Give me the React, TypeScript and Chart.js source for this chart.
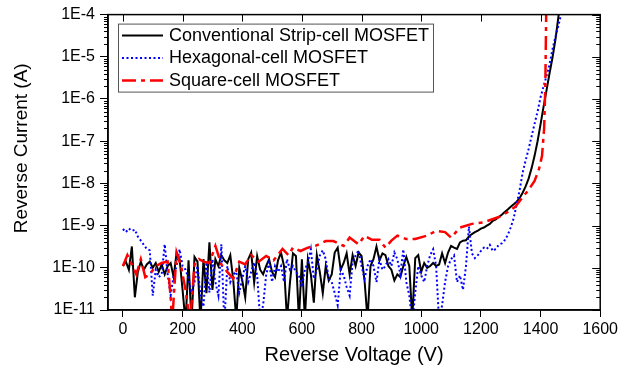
import React, { useEffect, useRef } from "react";
import { Chart, registerables } from "chart.js";

Chart.register(...registerables);

// ---------- DATA ----------
const sweepVoltage = [
  0, 10, 20, 30, 40, 50, 60, 70, 80, 90,
  100, 110, 120, 130, 140, 150, 160, 170, 180, 190,
  200, 210, 220, 230, 240, 250, 260, 270, 280, 290,
  300, 310, 320, 330, 340, 350, 360, 370, 380, 390,
  400, 410, 420, 430, 440, 450, 460, 470, 480, 490,
  500, 510, 520, 530, 540, 550, 560, 570, 580, 590,
  600, 610, 620, 630, 640, 650, 660, 670, 680, 690,
  700, 710, 720, 730, 740, 750, 760, 770, 780, 790,
  800, 810, 820, 830, 840, 850, 860, 870, 880, 890,
  900, 910, 920, 930, 940, 950, 960, 970, 980, 990,
  1000, 1010, 1020, 1030, 1040, 1050, 1060, 1070, 1080, 1090,
  1100, 1110, 1120, 1130, 1140, 1150, 1160, 1170, 1180, 1190,
  1200, 1210, 1220, 1230, 1240, 1250, 1260, 1270, 1280, 1290,
  1300, 1310, 1320, 1330, 1340, 1350, 1360, 1370, 1380, 1390,
  1400, 1410, 1420, 1430, 1440, 1450, 1460, 1470,
];

const stripCurrent = [
  1.1e-10, 1.4e-10, 9e-11, 3.2e-10, 2e-11, 8e-11, 1.4e-10, 9e-11, 1.2e-10, 1.4e-10,
  1.0e-10, 1.3e-10, 8e-11, 1.2e-10, 7e-11, 1.1e-10, 1.3e-10, 6e-11, 2.3e-10, 1.6e-10,
  3e-11, 5e-12, 1.5e-10, 5e-12, 1.8e-10, 1.4e-10, 5e-12, 1.6e-10, 2.5e-11, 4e-10,
  3e-11, 1.6e-10, 1.1e-10, 2e-10, 1.5e-10, 1.3e-10, 2e-10, 5e-11, 6e-12, 1.0e-10,
  5e-11, 2e-11, 1.6e-10, 2.3e-10, 4.5e-11, 1.9e-10, 9e-11, 7e-11, 1.1e-10, 1.6e-10,
  8e-11, 6e-11, 1.5e-10, 2.3e-10, 1.1e-10, 6e-12, 4.5e-11, 2.2e-10, 1.9e-10, 6e-12,
  1.6e-10, 6e-12, 1.6e-10, 7e-11, 1.5e-11, 2e-10, 8e-11, 2.5e-11, 1.1e-10, 5e-11,
  7e-11, 2.3e-10, 3e-10, 9e-11, 1.3e-10, 2.2e-10, 7e-11, 2e-10, 1.1e-10, 2.3e-10,
  1.9e-10, 5e-11, 6e-12, 1.1e-10, 1.6e-10, 3.2e-10, 1.5e-10, 2.2e-10, 2e-10, 1.1e-10,
  9e-11, 5e-11, 7e-11, 6e-11, 1.1e-10, 1.8e-10, 1.1e-10, 6e-12, 1.7e-10, 2e-10,
  8e-11, 1.3e-10, 1.0e-10, 1.1e-10, 1.3e-10, 1.1e-10, 1.2e-10, 2.2e-10, 1.3e-10, 2.3e-10,
  3.3e-10, 3e-10, 2.8e-10, 4e-10, 4.4e-10, 4.5e-10, 5.5e-10, 6.3e-10, 7e-10, 7.6e-10,
  8.5e-10, 9e-10, 1.0e-9, 1.1e-9, 1.3e-9, 1.4e-9, 1.6e-9, 1.8e-9, 2.1e-9, 2.4e-9,
  2.8e-9, 3.2e-9, 3.7e-9, 4.5e-9, 6e-9, 8.5e-9, 1.3e-8, 2.3e-8, 4.5e-8, 1.0e-7,
  2.5e-7, 6.5e-7, 1.6e-6, 4e-6, 9.5e-6, 2.6e-5, 9e-5, 3e-4,
];

const hexCurrent = [
  8.3e-10, 7e-10, 8.5e-10, 7.5e-10, 8e-10, 5.5e-10, 4.4e-10, 3.5e-10, 2.8e-10, 2.6e-10,
  2.2e-11, 9e-11, 6e-11, 7e-11, 3.6e-10, 7e-11, 2.2e-11, 6.6e-11, 1.1e-10, 2.75e-10,
  1.1e-10, 9e-11, 5.5e-11, 2.6e-11, 4.6e-11, 1.1e-10, 2.2e-11, 1.2e-11, 1.35e-10, 2.6e-11,
  1.6e-10, 4.6e-11, 2.2e-11, 3.6e-10, 5e-12, 1.1e-10, 4.6e-11, 7e-11, 8e-11, 2.6e-11,
  5.5e-11, 1.1e-10, 4.6e-11, 8e-11, 1.35e-10, 6.6e-11, 6e-12, 1.3e-11, 6.6e-11, 1.35e-10,
  4.6e-11, 1.1e-10, 8e-11, 1.1e-10, 4.6e-11, 1.6e-10, 9e-11, 1.1e-10, 8e-11, 6.6e-11,
  3.5e-11, 9e-11, 1.35e-10, 2.75e-10, 5.5e-11, 9e-11, 1.95e-10, 2.6e-10, 1.6e-10, 5.5e-11,
  4.6e-11, 2.5e-11, 1.3e-11, 9e-11, 6.6e-11, 3.5e-11, 2.2e-11, 1.35e-10, 1.95e-10, 2.6e-10,
  1.1e-10, 5.5e-11, 1.1e-10, 1.6e-10, 1.1e-10, 4.6e-11, 1.6e-10, 9e-11, 1.1e-10, 1.6e-10,
  1.1e-10, 2.3e-10, 1.6e-10, 7e-11, 2.75e-10, 4.6e-11, 2.2e-11, 5e-12, 2.6e-11, 1.1e-10,
  6.6e-11, 4.6e-11, 1.1e-10, 2e-10, 2.75e-10, 1.1e-10, 5e-12, 1.3e-11, 4.6e-11, 1.1e-10,
  1.6e-10, 1.95e-10, 4.6e-11, 6.6e-11, 3e-11, 1.1e-10, 9.5e-10, 2.2e-10, 1.7e-10, 2e-10,
  2.5e-10, 3e-10, 2.8e-10, 3.5e-10, 2.5e-10, 2.8e-10, 3.5e-10, 3.8e-10, 4.5e-10, 6e-10,
  9e-10, 1.5e-9, 3.2e-9, 7e-9, 1.8e-8, 3.5e-8, 6.5e-8, 1.3e-7, 2.6e-7, 5e-7,
  1.1e-6, 2e-6, 3.5e-6, 6.5e-6, 1.5e-5, 3e-5, 5.5e-5, 1.1e-4,
];

const squareVoltage = [
  0, 15, 30, 45, 60, 75, 90, 110, 130, 150, 160, 165, 180, 195, 210, 225,
  240, 255, 270, 290, 310, 330, 350, 370, 390, 410, 430, 455, 480, 505, 535, 555,
  570, 595, 620, 645, 680, 705, 740, 760, 790, 810, 835, 860, 880, 900, 920, 950,
  980, 1020, 1050, 1080, 1100, 1130, 1170, 1210, 1260, 1290, 1315, 1340, 1360, 1380,
  1395, 1405, 1412, 1416, 1419,
];

const squareCurrent = [
  1.1e-10, 2e-10, 1.2e-10, 7e-11, 1.6e-10, 6e-11, 7e-11, 1.1e-10, 1.3e-10, 1.4e-10, 2e-11, 5e-12, 2.3e-10, 1.1e-10, 3e-11, 5e-12,
  1.2e-10, 1.6e-10, 1.4e-10, 1.3e-10, 3.3e-10, 1.2e-10, 8e-11, 5.5e-11, 1.4e-10, 1.2e-10, 2e-10, 1.4e-10, 1.9e-10, 1.5e-10, 2.8e-10, 2e-10,
  3e-10, 2.5e-10, 3e-10, 3.3e-10, 4.3e-10, 4.3e-10, 3.3e-10, 5.2e-10, 3.6e-10, 5.7e-10, 4.6e-10, 4.6e-10, 3e-10, 4.4e-10, 5.8e-10, 4.8e-10,
  4.8e-10, 5.8e-10, 7.5e-10, 7e-10, 5.2e-10, 9e-10, 1.1e-9, 1.2e-9, 1.6e-9, 2.1e-9, 2.8e-9, 4.7e-9, 7e-9, 1.15e-8,
  2.2e-8, 4.5e-8, 2e-7, 2e-6, 1.2e-4,
];

const seriesNames = [
  "Conventional Strip-cell MOSFET",
  "Hexagonal-cell MOSFET",
  "Square-cell MOSFET",
];

const xTickValues = [0, 200, 400, 600, 800, 1000, 1200, 1400, 1600];
const xTickLabels = ["0", "200", "400", "600", "800", "1000", "1200", "1400", "1600"];
const yTickValues = [1e-11, 1e-10, 1e-9, 1e-8, 1e-7, 1e-6, 1e-5, 1e-4];
const yTickLabels = ["1E-11", "1E-10", "1E-9", "1E-8", "1E-7", "1E-6", "1E-5", "1E-4"];

const xTitle = "Reverse Voltage (V)";
const yTitle = "Reverse Current (A)";

// ---------- STYLE ----------
const FONT = "'Liberation Sans', Arial, Helvetica, sans-serif";
const seriesStyles = [
  { color: "#000000", width: 2, dash: [] as number[] },
  { color: "#0000ff", width: 2, dash: [2, 2.5] },
  { color: "#ff0000", width: 2.5, dash: [14, 5, 4, 5] },
];

export default function App() {
  const canvasRef = useRef<HTMLCanvasElement | null>(null);

  useEffect(() => {
    const canvas = canvasRef.current;
    if (!canvas) return;

    const pts = (xs: number[], ys: number[]) => xs.map((x, i) => ({ x, y: ys[i] }));

    const decorPlugin = {
      id: "decor",
      afterDatasetsDraw(chart: any) {
        const { ctx, chartArea: a, scales } = chart;
        const xs = scales.x;
        const ys = scales.y;
        ctx.save();
        ctx.strokeStyle = "#000";
        // frame
        ctx.lineWidth = 1.5;
        ctx.setLineDash([]);
        ctx.strokeRect(a.left, a.top, a.right - a.left, a.bottom - a.top);

        ctx.lineWidth = 1;
        ctx.beginPath();
        // top ticks (inward)
        for (const v of xTickValues) {
          const px = Math.round(xs.getPixelForValue(v)) + 0.5;
          ctx.moveTo(px, a.top);
          ctx.lineTo(px, a.top + 7);
        }
        // right major ticks (inward)
        for (const v of yTickValues) {
          const py = Math.round(ys.getPixelForValue(v)) + 0.5;
          ctx.moveTo(a.right, py);
          ctx.lineTo(a.right - 8, py);
        }
        // minor log ticks
        for (let d = -11; d < -4; d++) {
          for (let m = 2; m <= 9; m++) {
            const py = Math.round(ys.getPixelForValue(m * Math.pow(10, d))) + 0.5;
            ctx.moveTo(a.left, py);
            ctx.lineTo(a.left - 4, py);
            ctx.moveTo(a.right, py);
            ctx.lineTo(a.right - 4, py);
          }
        }
        ctx.stroke();

        // legend
        const lx = a.left + 10;
        const ly = a.top + 9;
        const lw = 315;
        const lh = 68;
        ctx.fillStyle = "#fff";
        ctx.fillRect(lx, ly, lw, lh);
        ctx.strokeStyle = "#555";
        ctx.lineWidth = 1;
        ctx.strokeRect(lx + 0.5, ly + 0.5, lw, lh);
        ctx.font = `18px ${FONT}`;
        ctx.textBaseline = "middle";
        ctx.textAlign = "left";
        seriesNames.forEach((name, i) => {
          const st = seriesStyles[i];
          const rowY = ly + 12 + i * 22.5;
          ctx.strokeStyle = st.color;
          ctx.lineWidth = st.width;
          ctx.setLineDash(st.dash);
          ctx.beginPath();
          ctx.moveTo(lx + 4, rowY);
          ctx.lineTo(lx + 45, rowY);
          ctx.stroke();
          ctx.setLineDash([]);
          ctx.fillStyle = "#000";
          ctx.fillText(name, lx + 51, rowY);
        });

        // y-axis title
        ctx.save();
        ctx.translate(22, (a.top + a.bottom) / 2 - 14);
        ctx.rotate(-Math.PI / 2);
        ctx.font = `19px ${FONT}`;
        ctx.fillStyle = "#000";
        ctx.textAlign = "center";
        ctx.textBaseline = "middle";
        ctx.fillText(yTitle, 0, 0);
        ctx.restore();

        ctx.restore();
      },
    };

    const chart = new Chart(canvas, {
      type: "line",
      data: {
        datasets: [
          {
            label: seriesNames[0],
            data: pts(sweepVoltage, stripCurrent),
            borderColor: seriesStyles[0].color,
            borderWidth: seriesStyles[0].width,
            borderDash: seriesStyles[0].dash,
            pointRadius: 0,
            tension: 0,
            order: 3,
          },
          {
            label: seriesNames[1],
            data: pts(sweepVoltage, hexCurrent),
            borderColor: seriesStyles[1].color,
            borderWidth: seriesStyles[1].width,
            borderDash: seriesStyles[1].dash,
            pointRadius: 0,
            tension: 0,
            order: 2,
          },
          {
            label: seriesNames[2],
            data: pts(squareVoltage, squareCurrent),
            borderColor: seriesStyles[2].color,
            borderWidth: seriesStyles[2].width,
            borderDash: seriesStyles[2].dash,
            pointRadius: 0,
            tension: 0,
            order: 1,
          },
        ],
      },
      options: {
        animation: false,
        responsive: true,
        maintainAspectRatio: false,
        devicePixelRatio: 1,
        layout: { padding: { left: 0, right: 18, top: 13, bottom: 0 } },
        plugins: {
          legend: { display: false },
          tooltip: { enabled: false },
        },
        scales: {
          x: {
            type: "linear",
            min: -50,
            max: 1600,
            afterBuildTicks: (s: any) => {
              s.ticks = xTickValues.map((v) => ({ value: v }));
            },
            afterFit: (s: any) => {
              s.height = 66;
            },
            ticks: {
              autoSkip: false,
              maxRotation: 0,
              color: "#000",
              padding: 3,
              font: { family: FONT, size: 16 },
              callback: (_v: any, i: number) => xTickLabels[i],
            },
            grid: {
              drawOnChartArea: false,
              drawTicks: true,
              tickLength: 7,
              color: "#000",
              lineWidth: 1,
            },
            border: { display: true, color: "#000", width: 1.5 },
            title: {
              display: true,
              text: xTitle,
              color: "#000",
              font: { family: FONT, size: 20 },
              padding: { top: 0, bottom: 9 },
            },
          },
          y: {
            type: "logarithmic",
            min: 1e-11,
            max: 1e-4,
            afterBuildTicks: (s: any) => {
              s.ticks = yTickValues.map((v) => ({ value: v }));
            },
            afterFit: (s: any) => {
              s.width = 108;
            },
            ticks: {
              autoSkip: false,
              color: "#000",
              padding: 5,
              font: { family: FONT, size: 16 },
              callback: (_v: any, i: number) => yTickLabels[i],
            },
            grid: {
              drawOnChartArea: false,
              drawTicks: true,
              tickLength: 8,
              color: "#000",
              lineWidth: 1,
            },
            border: { display: true, color: "#000", width: 1.5 },
          },
        },
      } as any,
      plugins: [decorPlugin],
    });

    return () => chart.destroy();
  }, []);

  return (
    <div style={{ position: "fixed", left: 0, top: 0, width: 621, height: 376, background: "#fff" }}>
      <canvas ref={canvasRef} />
    </div>
  );
}
